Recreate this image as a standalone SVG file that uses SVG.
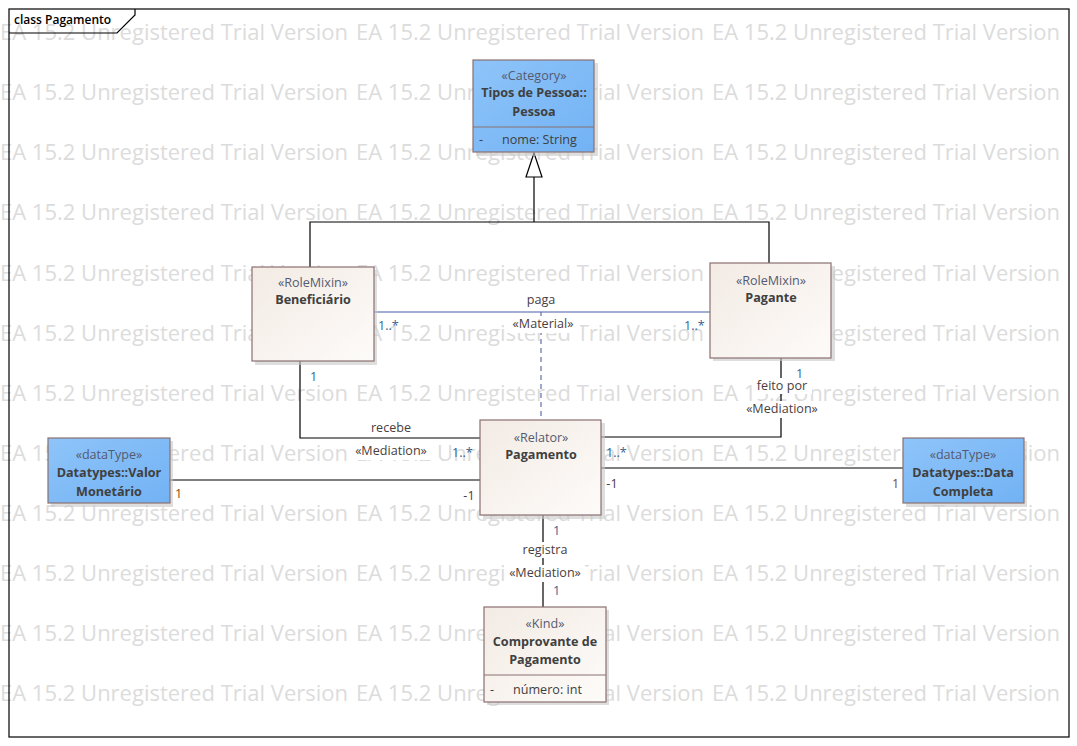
<svg xmlns="http://www.w3.org/2000/svg" width="1077" height="746" viewBox="0 0 1077 746">
<defs>
<linearGradient id="beige" x1="0" y1="0" x2="1" y2="1">
<stop offset="0" stop-color="#f3ebe4"/>
<stop offset="1" stop-color="#fdfbf9"/>
</linearGradient>
<linearGradient id="blue" x1="0" y1="0" x2="1" y2="1">
<stop offset="0" stop-color="#8ec4f9"/>
<stop offset="1" stop-color="#72b2f4"/>
</linearGradient>
</defs>
<style>
.wm{font-family:"Open Sans","Noto Sans",sans-serif;font-size:22px;fill:#dcdcdc}
.box{stroke:#8a7070;stroke-width:1.2}
.shadow{fill:#c8c8c8;opacity:0.6}
.st{font-family:"Open Sans","Noto Sans",sans-serif;font-size:12.6px;fill:#555a70;text-anchor:middle}
.tt{font-family:"Open Sans","Noto Sans",sans-serif;font-size:12.6px;font-weight:bold;fill:#404040;text-anchor:middle}
.at{font-family:"Open Sans","Noto Sans",sans-serif;font-size:12.6px;fill:#404040}
.lbl{font-family:"Open Sans","Noto Sans",sans-serif;font-size:12.6px;fill:#4a4040;text-anchor:middle}
.mul{font-family:"Open Sans","Noto Sans",sans-serif;font-size:12.6px;fill:#3a5f8f}
.mulb{font-family:"Open Sans","Noto Sans",sans-serif;font-size:12.6px;fill:#7a4a20}
.ln{fill:none;stroke:#000;stroke-width:1.2}
.bg{fill:#fff}
</style>
<rect width="1077" height="746" fill="#fff"/>
<g id="watermark">
<text class="wm" x="0" y="40" textLength="348">EA 15.2 Unregistered Trial Version</text><text class="wm" x="356" y="40" textLength="348">EA 15.2 Unregistered Trial Version</text><text class="wm" x="712" y="40" textLength="348">EA 15.2 Unregistered Trial Version</text>
<text class="wm" x="0" y="100" textLength="348">EA 15.2 Unregistered Trial Version</text><text class="wm" x="356" y="100" textLength="348">EA 15.2 Unregistered Trial Version</text><text class="wm" x="712" y="100" textLength="348">EA 15.2 Unregistered Trial Version</text>
<text class="wm" x="0" y="160" textLength="348">EA 15.2 Unregistered Trial Version</text><text class="wm" x="356" y="160" textLength="348">EA 15.2 Unregistered Trial Version</text><text class="wm" x="712" y="160" textLength="348">EA 15.2 Unregistered Trial Version</text>
<text class="wm" x="0" y="220" textLength="348">EA 15.2 Unregistered Trial Version</text><text class="wm" x="356" y="220" textLength="348">EA 15.2 Unregistered Trial Version</text><text class="wm" x="712" y="220" textLength="348">EA 15.2 Unregistered Trial Version</text>
<text class="wm" x="0" y="281" textLength="348">EA 15.2 Unregistered Trial Version</text><text class="wm" x="356" y="281" textLength="348">EA 15.2 Unregistered Trial Version</text><text class="wm" x="712" y="281" textLength="348">EA 15.2 Unregistered Trial Version</text>
<text class="wm" x="0" y="341" textLength="348">EA 15.2 Unregistered Trial Version</text><text class="wm" x="356" y="341" textLength="348">EA 15.2 Unregistered Trial Version</text><text class="wm" x="712" y="341" textLength="348">EA 15.2 Unregistered Trial Version</text>
<text class="wm" x="0" y="401" textLength="348">EA 15.2 Unregistered Trial Version</text><text class="wm" x="356" y="401" textLength="348">EA 15.2 Unregistered Trial Version</text><text class="wm" x="712" y="401" textLength="348">EA 15.2 Unregistered Trial Version</text>
<text class="wm" x="0" y="461" textLength="348">EA 15.2 Unregistered Trial Version</text><text class="wm" x="356" y="461" textLength="348">EA 15.2 Unregistered Trial Version</text><text class="wm" x="712" y="461" textLength="348">EA 15.2 Unregistered Trial Version</text>
<text class="wm" x="0" y="521" textLength="348">EA 15.2 Unregistered Trial Version</text><text class="wm" x="356" y="521" textLength="348">EA 15.2 Unregistered Trial Version</text><text class="wm" x="712" y="521" textLength="348">EA 15.2 Unregistered Trial Version</text>
<text class="wm" x="0" y="581" textLength="348">EA 15.2 Unregistered Trial Version</text><text class="wm" x="356" y="581" textLength="348">EA 15.2 Unregistered Trial Version</text><text class="wm" x="712" y="581" textLength="348">EA 15.2 Unregistered Trial Version</text>
<text class="wm" x="0" y="641" textLength="348">EA 15.2 Unregistered Trial Version</text><text class="wm" x="356" y="641" textLength="348">EA 15.2 Unregistered Trial Version</text><text class="wm" x="712" y="641" textLength="348">EA 15.2 Unregistered Trial Version</text>
<text class="wm" x="0" y="701" textLength="348">EA 15.2 Unregistered Trial Version</text><text class="wm" x="356" y="701" textLength="348">EA 15.2 Unregistered Trial Version</text><text class="wm" x="712" y="701" textLength="348">EA 15.2 Unregistered Trial Version</text>
</g>
<g id="frame">
<rect x="9" y="9" width="1060" height="728" fill="none" stroke="#000" stroke-width="1.2"/>
<path d="M9,33 L117,33 L135,15 L135,9" fill="none" stroke="#000" stroke-width="1.2"/>
<text x="14" y="24" font-family="'Open Sans','Noto Sans',sans-serif" font-size="12" font-weight="600" fill="#000">class Pagamento</text>
</g>
<g id="connectors">
<polyline class="ln" points="310,267 310,222 769,222 769,263"/>
<line class="ln" x1="534" y1="222" x2="534" y2="177"/>
<polygon points="534,153 542,177 526,177" fill="#fff" stroke="#000" stroke-width="1.2"/>
<line x1="374" y1="312" x2="710" y2="312" stroke="#4a5fa8" stroke-width="1.2"/>
<line x1="541" y1="312" x2="541" y2="420" stroke="#6070a8" stroke-width="1.2" stroke-dasharray="5,4"/>
<polyline class="ln" points="300,361 300,438 480,438"/>
<polyline class="ln" points="781,358 781,437 601,437"/>
<line class="ln" x1="170" y1="480" x2="480" y2="480"/>
<line class="ln" x1="601" y1="468" x2="903" y2="468"/>
<line class="ln" x1="543" y1="515" x2="543" y2="607"/>
<rect class="bg" x="523" y="291" width="36" height="17"/>
<text class="lbl" x="541" y="304">paga</text>
<rect class="bg" x="506" y="316" width="74" height="17"/>
<text class="lbl" x="543" y="328">«Material»</text>
<text class="mul" x="378" y="330">1..*</text>
<text class="mul" x="684" y="330">1..*</text>
<text class="mul" x="310" y="381">1</text>
<rect class="bg" x="366" y="420" width="50" height="16"/>
<text class="lbl" x="391" y="432">recebe</text>
<rect class="bg" x="352" y="443" width="80" height="17"/>
<text class="lbl" x="391" y="455">«Mediation»</text>
<text class="mul" x="452" y="457">1..*</text>
<text class="mul" x="796" y="378">1</text>
<rect class="bg" x="752" y="378" width="60" height="16"/>
<text class="lbl" x="782" y="390">feito por</text>
<rect class="bg" x="742" y="401" width="80" height="17"/>
<text class="lbl" x="782" y="413">«Mediation»</text>
<text class="mul" x="606" y="457">1..*</text>
<text class="mulb" x="175" y="498">1</text>
<text class="lbl" x="469" y="500">-1</text>
<text class="lbl" x="612" y="488">-1</text>
<text class="mulb" x="892" y="488">1</text>
<text class="mul" x="553" y="535">1</text>
<rect class="bg" x="518" y="542" width="54" height="16"/>
<text class="lbl" x="545" y="554">registra</text>
<rect class="bg" x="505" y="565" width="80" height="17"/>
<text class="lbl" x="545" y="577">«Mediation»</text>
<text class="mul" x="553" y="595">1</text>
</g>
<g id="pessoa">
<rect class="shadow" x="476" y="63" width="122" height="93"/>
<rect class="box" x="473" y="60" width="121" height="92" fill="url(#blue)"/>
<line class="box" x1="473" y1="127" x2="594" y2="127"/>
<text class="st" x="534" y="80">«Category»</text>
<text class="tt" x="534" y="97">Tipos de Pessoa::</text>
<text class="tt" x="534" y="116">Pessoa</text>
<text class="at" x="479" y="144">-</text>
<text class="at" x="502" y="144">nome: String</text>
</g>
<g id="beneficiario">
<rect class="shadow" x="255" y="270" width="122" height="95"/>
<rect class="box" x="252" y="267" width="122" height="94" fill="url(#beige)"/>
<text class="st" x="313" y="287">«RoleMixin»</text>
<text class="tt" x="313" y="304">Beneficiário</text>
</g>
<g id="pagante">
<rect class="shadow" x="713" y="266" width="122" height="95"/>
<rect class="box" x="710" y="263" width="121" height="95" fill="url(#beige)"/>
<text class="st" x="771" y="285">«RoleMixin»</text>
<text class="tt" x="771" y="302">Pagante</text>
</g>
<g id="pagamento">
<rect class="shadow" x="483" y="423" width="122" height="96"/>
<rect class="box" x="480" y="420" width="121" height="95" fill="url(#beige)"/>
<text class="st" x="541" y="442">«Relator»</text>
<text class="tt" x="541" y="459">Pagamento</text>
</g>
<g id="valor">
<rect class="shadow" x="51" y="441" width="122" height="66"/>
<rect class="box" x="48" y="438" width="122" height="65" fill="url(#blue)"/>
<text class="st" x="109" y="459">«dataType»</text>
<text class="tt" x="109" y="477">Datatypes::Valor</text>
<text class="tt" x="109" y="496">Monetário</text>
</g>
<g id="data">
<rect class="shadow" x="906" y="441" width="121" height="66"/>
<rect class="box" x="903" y="438" width="121" height="65" fill="url(#blue)"/>
<text class="st" x="963" y="459">«dataType»</text>
<text class="tt" x="963" y="477">Datatypes::Data</text>
<text class="tt" x="963" y="496">Completa</text>
</g>
<g id="comprovante">
<rect class="shadow" x="487" y="610" width="122" height="95"/>
<rect class="box" x="484" y="607" width="122" height="95" fill="url(#beige)"/>
<line class="box" x1="484" y1="675" x2="606" y2="675"/>
<text class="st" x="545" y="628">«Kind»</text>
<text class="tt" x="545" y="646">Comprovante de</text>
<text class="tt" x="545" y="664">Pagamento</text>
<text class="at" x="490" y="694">-</text>
<text class="at" x="513" y="694">número: int</text>
</g>
</svg>
